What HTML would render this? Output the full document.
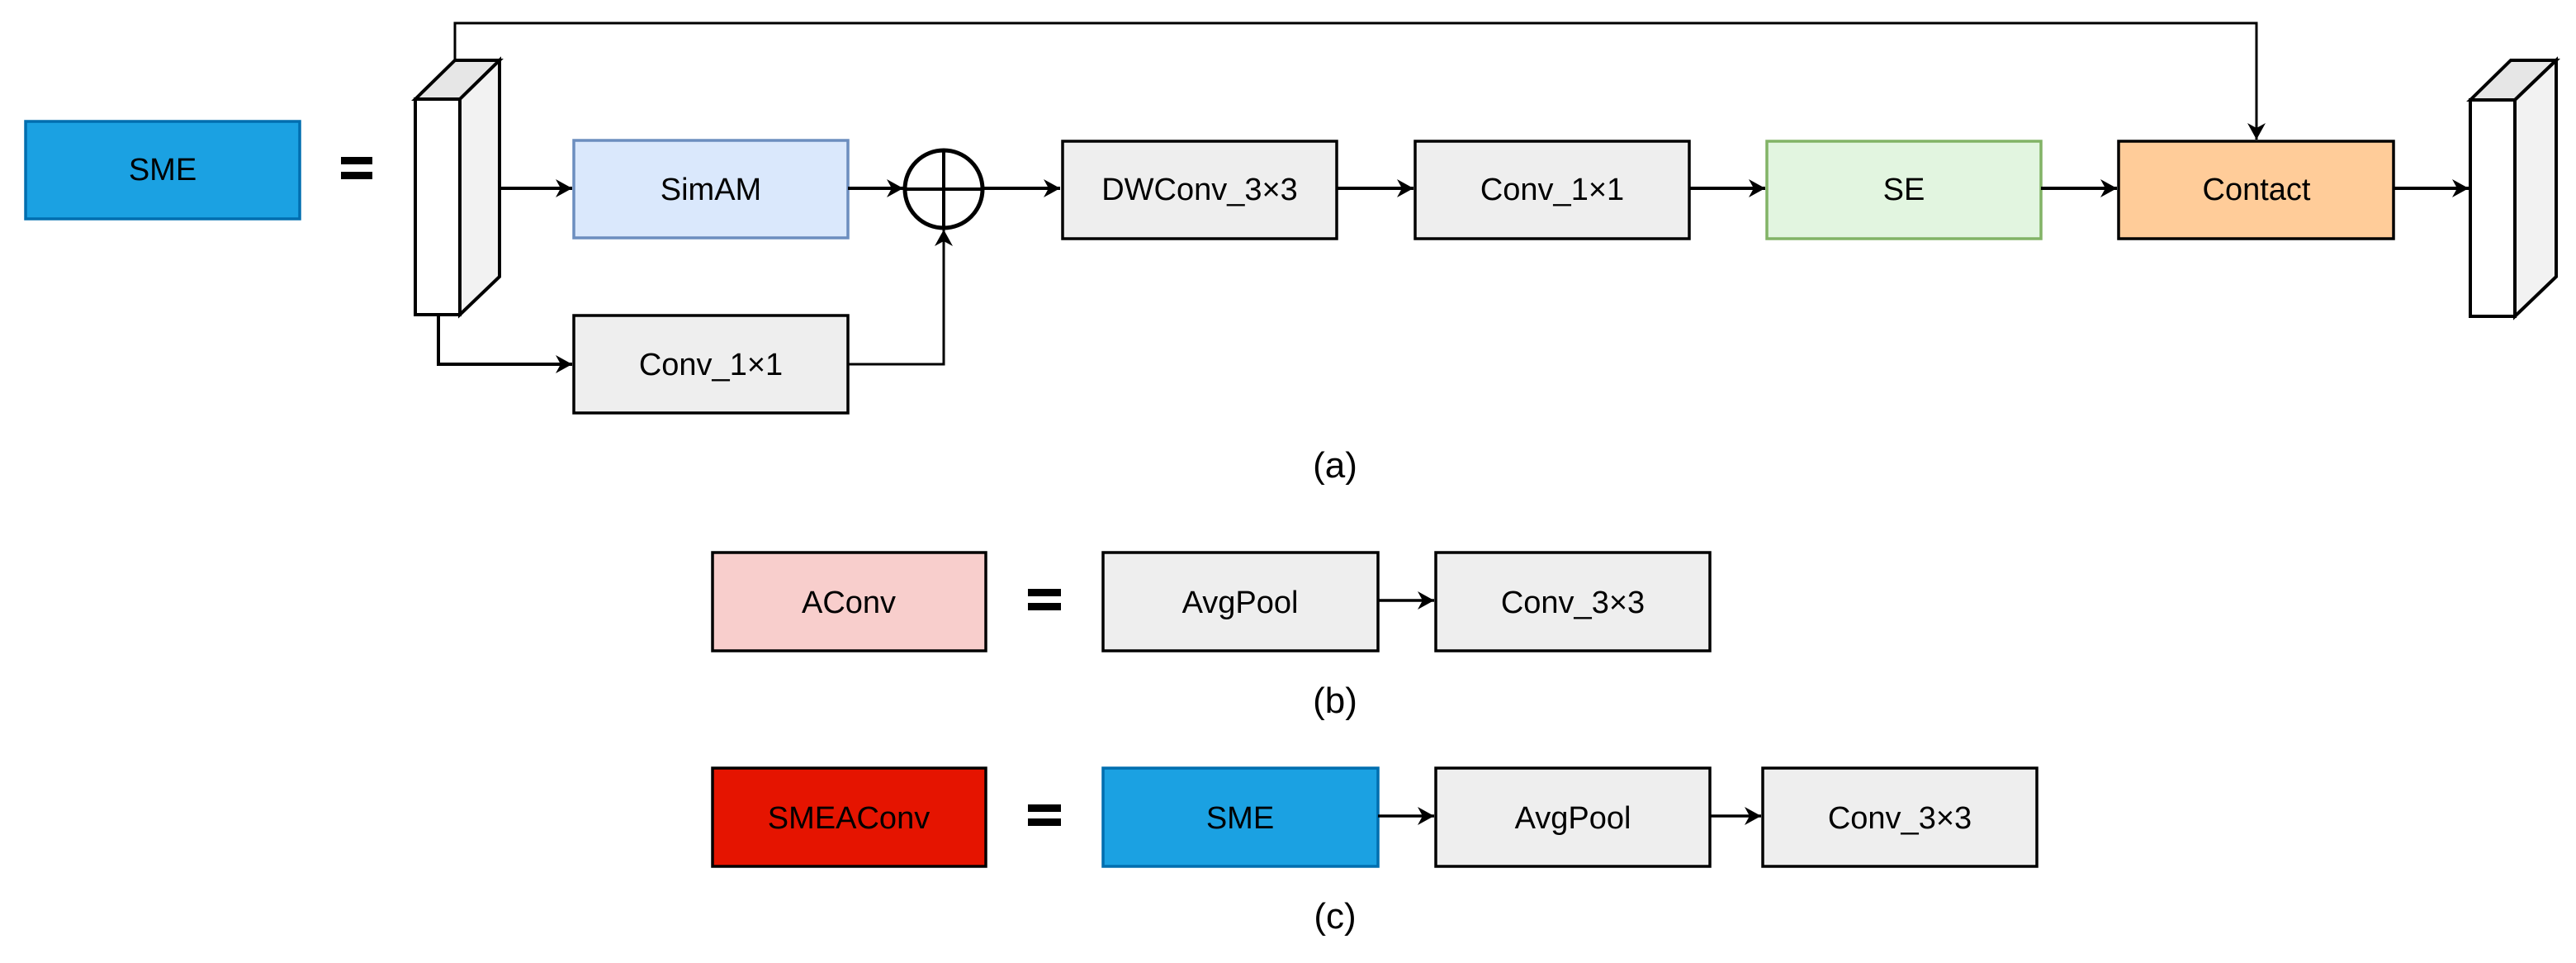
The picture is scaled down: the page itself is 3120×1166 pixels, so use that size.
<!DOCTYPE html>
<html><head><meta charset="utf-8"><style>
html,body{margin:0;padding:0;background:#fff}
svg{display:block}
text{font-family:"Liberation Sans",Arial,sans-serif;fill:#000}
</style></head><body>
<svg width="3120" height="1166" viewBox="0 0 3120 1166" xmlns="http://www.w3.org/2000/svg">
<defs>
<marker id="ah" markerWidth="22" markerHeight="24" refX="20" refY="12" orient="auto" markerUnits="userSpaceOnUse">
<path d="M0,1 L20,12 L0,23 L6,12 Z" fill="#000"/>
</marker>
</defs>
<g stroke-width="3.5">
<rect x="31" y="147" width="332" height="118" fill="#1ba1e2" stroke="#006eaf"/>
<text x="197" y="218" font-size="38" text-anchor="middle">SME</text>
<rect x="413" y="190" width="38" height="9" fill="#000" stroke="none"/>
<rect x="413" y="208" width="38" height="9" fill="#000" stroke="none"/>

<polygon points="503,120 551,73 605,73 557,120" fill="#e6e6e6" stroke="#000" stroke-width="4"/>
<polygon points="557,120 605,73 605,335 557,381" fill="#f2f2f2" stroke="#000" stroke-width="4"/>
<rect x="503" y="120" width="54" height="261" fill="#fff" stroke="#000" stroke-width="4"/>

<polyline points="551,73 551,28 2733,28 2733,169" fill="none" stroke="#000" stroke-width="3" marker-end="url(#ah)"/>

<line x1="605" y1="228" x2="693" y2="228" stroke="#000" stroke-width="4" marker-end="url(#ah)"/>
<polyline points="531,381 531,441 693,441" fill="none" stroke="#000" stroke-width="4" marker-end="url(#ah)"/>

<rect x="695" y="170" width="332" height="118" fill="#dae8fc" stroke="#6c8ebf"/>
<text x="861" y="242" font-size="38" text-anchor="middle">SimAM</text>
<rect x="695" y="382" width="332" height="118" fill="#eeeeee" stroke="#000"/>
<text x="861" y="454" font-size="38" text-anchor="middle">Conv_1×1</text>

<line x1="1027" y1="228" x2="1094" y2="228" stroke="#000" stroke-width="4" marker-end="url(#ah)"/>
<polyline points="1027,441 1143,441 1143,278" fill="none" stroke="#000" stroke-width="3" marker-end="url(#ah)"/>
<circle cx="1143" cy="229" r="47" fill="#fff" stroke="#000" stroke-width="5"/>
<line x1="1096" y1="229" x2="1190" y2="229" stroke="#000" stroke-width="4"/>
<line x1="1143" y1="182" x2="1143" y2="276" stroke="#000" stroke-width="4"/>
<line x1="1190" y1="228" x2="1284" y2="228" stroke="#000" stroke-width="4" marker-end="url(#ah)"/>

<rect x="1287" y="171" width="332" height="118" fill="#eeeeee" stroke="#000"/>
<text x="1453" y="242" font-size="38" text-anchor="middle">DWConv_3×3</text>
<line x1="1619" y1="228" x2="1712" y2="228" stroke="#000" stroke-width="4" marker-end="url(#ah)"/>
<rect x="1714" y="171" width="332" height="118" fill="#eeeeee" stroke="#000"/>
<text x="1880" y="242" font-size="38" text-anchor="middle">Conv_1×1</text>
<line x1="2046" y1="228" x2="2138" y2="228" stroke="#000" stroke-width="4" marker-end="url(#ah)"/>
<rect x="2140" y="171" width="332" height="118" fill="#e2f5e0" stroke="#82b366"/>
<text x="2306" y="242" font-size="38" text-anchor="middle">SE</text>
<line x1="2472" y1="228" x2="2564" y2="228" stroke="#000" stroke-width="4" marker-end="url(#ah)"/>
<rect x="2566" y="171" width="333" height="118" fill="#ffcc99" stroke="#000"/>
<text x="2733" y="242" font-size="38" text-anchor="middle">Contact</text>
<line x1="2899" y1="228" x2="2990" y2="228" stroke="#000" stroke-width="4" marker-end="url(#ah)"/>

<polygon points="2992,121 3041,73 3096,73 3046,121" fill="#e6e6e6" stroke="#000" stroke-width="4"/>
<polygon points="3046,121 3096,73 3096,335 3046,383" fill="#f2f2f2" stroke="#000" stroke-width="4"/>
<rect x="2992" y="121" width="54" height="262" fill="#fff" stroke="#000" stroke-width="4"/>

<text x="1617" y="578" font-size="44" text-anchor="middle">(a)</text>

<rect x="863" y="669" width="331" height="119" fill="#f8cecc" stroke="#000"/>
<text x="1028" y="742" font-size="38" text-anchor="middle">AConv</text>
<rect x="1245" y="713" width="40" height="9" fill="#000" stroke="none"/>
<rect x="1245" y="730" width="40" height="9" fill="#000" stroke="none"/>
<rect x="1336" y="669" width="333" height="119" fill="#eeeeee" stroke="#000"/>
<text x="1502" y="742" font-size="38" text-anchor="middle">AvgPool</text>
<line x1="1669" y1="727" x2="1737" y2="727" stroke="#000" stroke-width="3.5" marker-end="url(#ah)"/>
<rect x="1739" y="669" width="332" height="119" fill="#eeeeee" stroke="#000"/>
<text x="1905" y="742" font-size="38" text-anchor="middle">Conv_3×3</text>
<text x="1617" y="863" font-size="44" text-anchor="middle">(b)</text>

<rect x="863" y="930" width="331" height="119" fill="#e51400" stroke="#000"/>
<text x="1028" y="1003" font-size="38" text-anchor="middle">SMEAConv</text>
<rect x="1245" y="974" width="40" height="9" fill="#000" stroke="none"/>
<rect x="1245" y="991" width="40" height="9" fill="#000" stroke="none"/>
<rect x="1336" y="930" width="333" height="119" fill="#1ba1e2" stroke="#006eaf"/>
<text x="1502" y="1003" font-size="38" text-anchor="middle">SME</text>
<line x1="1669" y1="988" x2="1737" y2="988" stroke="#000" stroke-width="3.5" marker-end="url(#ah)"/>
<rect x="1739" y="930" width="332" height="119" fill="#eeeeee" stroke="#000"/>
<text x="1905" y="1003" font-size="38" text-anchor="middle">AvgPool</text>
<line x1="2071" y1="988" x2="2133" y2="988" stroke="#000" stroke-width="3.5" marker-end="url(#ah)"/>
<rect x="2135" y="930" width="332" height="119" fill="#eeeeee" stroke="#000"/>
<text x="2301" y="1003" font-size="38" text-anchor="middle">Conv_3×3</text>
<text x="1617" y="1124" font-size="44" text-anchor="middle">(c)</text>
</g>
</svg>
</body></html>
